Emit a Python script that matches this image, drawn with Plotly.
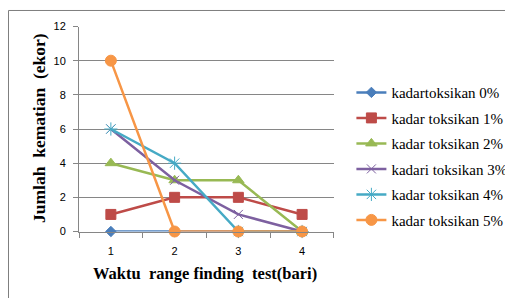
import plotly.graph_objects as go

days = [1, 2, 3, 4]
day_labels = ["1", "2", "3", "4"]
y_ticks = [0, 2, 4, 6, 8, 10, 12]

series_names = ["kadartoksikan 0%", "kadar toksikan 1%", "kadar toksikan 2%",
                "kadari toksikan 3%", "kadar toksikan 4%", "kadar toksikan 5%"]
s0 = [0, 0, 0, 0]
s1 = [1, 2, 2, 1]
s2 = [4, 3, 3, 0]
s3 = [6, 3, 1, 0]
s4 = [6, 4, 0, 0]
s5 = [10, 0, 0, 0]
values = [s0, s1, s2, s3, s4, s5]

colors = ["#4A7EBB", "#BE4B48", "#98B954", "#7D60A0", "#46AAC5", "#F79646"]
symbols = ["diamond", "square", "triangle-up", "x-thin", "asterisk", "circle"]
sizes = [8, 10, 10, 9, 11, 11]

SERIF = "Liberation Serif"

fig = go.Figure()
for i, (name, vals) in enumerate(zip(series_names, values)):
    marker = dict(symbol=symbols[i], size=sizes[i], color=colors[i],
                  line=dict(color=colors[i], width=1))
    fig.add_trace(go.Scatter(
        x=days, y=vals, name=name, mode="lines+markers",
        line=dict(color=colors[i], width=2.5),
        marker=marker, legendgroup=f"g{i}", cliponaxis=False,
    ))

fig.update_layout(
    width=505, height=290,
    margin=dict(l=0, r=0, t=0, b=0, pad=0, autoexpand=False),
    paper_bgcolor="white", plot_bgcolor="white",
    font=dict(family=SERIF),
    showlegend=True,
    legend=dict(x=0.68, y=0.765, xanchor="left", yanchor="top",
                font=dict(family=SERIF, size=15, color="#000000"),
                tracegroupgap=3, bgcolor="rgba(0,0,0,0)", itemwidth=30),
    xaxis=dict(domain=[0.1406, 0.6455], range=[0.5, 4.5], tickvals=days,
               ticktext=day_labels,
               showgrid=False, showline=True, linecolor="#868686", linewidth=1,
               ticks="", zeroline=False, ticklabelstandoff=9,
               tickfont=dict(family="Liberation Sans", size=11, color="#000000"),
               minor=dict(tick0=0.5, dtick=1, ticks="outside", ticklen=5,
                          tickcolor="#868686", showgrid=False)),
    yaxis=dict(domain=[0.2293, 0.9362], range=[0, 12], tickvals=y_ticks,
               showgrid=True, gridcolor="#868686",
               gridwidth=1, showline=True, linecolor="#868686", linewidth=1,
               ticks="outside", ticklen=5, tickcolor="#868686", zeroline=False,
               ticklabelstandoff=5,
               tickfont=dict(family="Liberation Sans", size=11, color="#000000")),
    shapes=[dict(type="rect", xref="paper", yref="paper",
                 x0=0.001, x1=1.01, y0=-0.01, y1=0.9914,
                 line=dict(color="#7F7F7F", width=1), layer="above")],
    annotations=[
        dict(text="<b>Jumlah\u00a0 kematian\u00a0 (ekor)</b>", xref="paper", yref="paper",
             x=0.0614, y=0.5862, xanchor="center", yanchor="middle",
             textangle=-90, showarrow=False,
             font=dict(family=SERIF, size=17.5, color="#000000")),
        dict(text="<b>Waktu\u00a0 range finding\u00a0 test(bari)</b>", xref="paper",
             yref="paper", x=0.390, y=0.0828, xanchor="center", yanchor="middle",
             showarrow=False,
             font=dict(family=SERIF, size=16.5, color="#000000")),
    ],
)

fig.write_html("out.html")
